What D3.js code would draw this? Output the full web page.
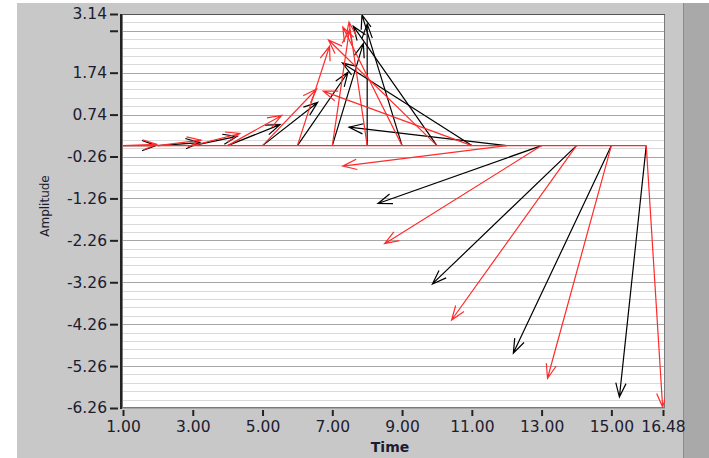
<!DOCTYPE html>
<html>
<head>
<meta charset="utf-8">
<script src="https://cdn.jsdelivr.net/npm/d3@7/dist/d3.min.js"></script>
<style>
  body { margin: 0; background: #fff; }
  svg { display: block; }
  .tick text { font-family: "DejaVu Sans", Verdana, sans-serif; font-size: 15.5px; fill: #1c1c30; }
</style>
</head>
<body>
<script>
// axis ticks
const xTickValues = [1, 3, 5, 7, 9, 11, 13, 15, 16.48];
const yTickValues = [3.14, 2.74, 1.74, 0.74, -0.26, -1.26, -2.26, -3.26, -4.26, -5.26, -6.26];
const yTickLabels = ["3.14", "", "1.74", "0.74", "-0.26", "-1.26", "-2.26", "-3.26", "-4.26", "-5.26", "-6.26"];

// arrow start times (all start on the 0 line) and their components
const times = [1, 2, 3, 4, 5, 6, 7, 8, 9, 10, 11, 12, 13, 14, 15, 16];
const blackDx = [0.95, 1.20, 1.27, 1.50, 1.58, 1.45, 0.89, 0.00, -1.15, -2.40, -3.71, -4.52, -4.69, -4.13, -2.81, -0.77];
const blackDy = [0.00, 0.07, 0.22, 0.50, 1.03, 1.75, 2.44, 2.90, 3.12, 2.85, 1.97, 0.44, -1.38, -3.30, -4.95, -6.00];
const redDx = [0.97, 1.24, 1.35, 1.55, 1.55, 0.92, 0.49, -0.52, -1.70, -3.11, -4.26, -4.70, -4.50, -3.58, -1.83, 0.47];
const redDy = [0.03, 0.13, 0.29, 0.72, 1.35, 2.37, 2.76, 2.95, 2.83, 2.52, 1.30, -0.49, -2.34, -4.16, -5.55, -6.24];

const W = 709, H = 458;
const plot = {left: 122, right: 665, top: 14, bottom: 408};

const svg = d3.select("body").append("svg")
    .attr("width", W)
    .attr("height", H);

// panel
svg.append("rect").attr("x", 17).attr("y", 3).attr("width", W - 17).attr("height", H - 3).attr("fill", "#c8c8c8");
svg.append("rect").attr("x", 683).attr("y", 3).attr("width", W - 683).attr("height", H - 3).attr("fill", "#a9a9a9");
svg.append("line").attr("x1", 683.5).attr("x2", 683.5).attr("y1", 3).attr("y2", H).attr("stroke", "#8c8c8c");

const x = d3.scaleLinear().domain([1, 16.48]).range([123, 663]);
const y = d3.scaleLinear().domain([-6.26, 3.14]).range([plot.bottom, plot.top]);

// plot background
svg.append("rect")
    .attr("x", plot.left).attr("y", plot.top)
    .attr("width", plot.right - plot.left).attr("height", plot.bottom - plot.top)
    .attr("fill", "#fff");

// grid lines, minor every 0.2 and major every 1
const minor = d3.range(0, 48).map(i => -6.26 + i * 0.2);
svg.append("g").selectAll("line").data(minor).join("line")
    .attr("x1", plot.left).attr("x2", plot.right)
    .attr("y1", d => Math.round(y(d)) + 0.5).attr("y2", d => Math.round(y(d)) + 0.5)
    .attr("stroke", "#d9d9d9");
svg.append("g").selectAll("line").data(yTickValues.slice(1)).join("line")
    .attr("x1", plot.left).attr("x2", plot.right)
    .attr("y1", d => Math.round(y(d)) + 0.5).attr("y2", d => Math.round(y(d)) + 0.5)
    .attr("stroke", "#a6a6a6");

// frame
svg.append("rect")
    .attr("x", plot.left + 0.5).attr("y", plot.top + 0.5)
    .attr("width", plot.right - plot.left - 1).attr("height", plot.bottom - plot.top - 1)
    .attr("fill", "none").attr("stroke", "#7a7a7a");
svg.append("line").attr("x1", plot.top).attr("x1", 121).attr("x2", 121)
    .attr("y1", plot.top).attr("y2", plot.bottom + 1)
    .attr("stroke", "#222").attr("stroke-width", 2);
svg.append("line").attr("x1", plot.left).attr("x2", plot.right)
    .attr("y1", plot.top + 0.5).attr("y2", plot.top + 0.5)
    .attr("stroke", "#555");

// axes
const yAxis = svg.append("g")
    .attr("transform", "translate(118,0)")
    .call(d3.axisLeft(y).tickValues(yTickValues)
        .tickFormat((d, i) => yTickLabels[i])
        .tickSize(8).tickPadding(3));
yAxis.select(".domain").remove();
yAxis.selectAll(".tick line").attr("stroke", "#222").attr("stroke-width", 2);

const xAxis = svg.append("g")
    .attr("transform", "translate(0,410)")
    .call(d3.axisBottom(x).tickValues(xTickValues)
        .tickFormat(d3.format(".2f"))
        .tickSize(6).tickPadding(5));
xAxis.select(".domain").remove();
xAxis.selectAll(".tick line").attr("stroke", "#222").attr("stroke-width", 2);

// axis titles
svg.append("text")
    .attr("x", 390).attr("y", 452)
    .attr("text-anchor", "middle")
    .style("font-family", "DejaVu Sans, sans-serif")
    .style("font-size", "14px").style("font-weight", "bold")
    .attr("fill", "#1c1c30")
    .text("Time");
svg.append("text")
    .attr("transform", "translate(49,206) rotate(-90)")
    .attr("text-anchor", "middle")
    .style("font-family", "DejaVu Sans, sans-serif")
    .style("font-size", "12px")
    .attr("fill", "#1c1c30")
    .text("Amplitude");

// arrows
const headLen = 15, headAng = 20 * Math.PI / 180;
function arrowPath(t, dx, dy) {
    const x0 = x(t), y0 = y(0);
    const x1 = x(t + dx), y1 = y(dy);
    const a = Math.atan2(y0 - y1, x0 - x1);
    const b1 = [x1 + headLen * Math.cos(a + headAng), y1 + headLen * Math.sin(a + headAng)];
    const b2 = [x1 + headLen * Math.cos(a - headAng), y1 + headLen * Math.sin(a - headAng)];
    return "M" + x0 + "," + y0 + "L" + x1 + "," + y1 +
        "M" + b1[0] + "," + b1[1] + "L" + x1 + "," + y1 + "L" + b2[0] + "," + b2[1];
}

svg.append("clipPath").attr("id", "clip").append("rect")
    .attr("x", plot.left + 1).attr("y", plot.top + 1)
    .attr("width", plot.right - plot.left - 1).attr("height", plot.bottom - plot.top - 1);

const marks = svg.append("g").attr("clip-path", "url(#clip)");

marks.selectAll(".black").data(times).join("path")
    .attr("class", "black")
    .attr("d", (t, i) => arrowPath(t, blackDx[i], blackDy[i]))
    .attr("fill", "none").attr("stroke", "#000").attr("stroke-width", 1.2);

marks.selectAll(".red").data(times).join("path")
    .attr("class", "red")
    .attr("d", (t, i) => arrowPath(t, redDx[i], redDy[i]))
    .attr("fill", "none").attr("stroke", "#ff2b2b").attr("stroke-width", 1.2);

// red baseline joining the arrow starts
marks.append("line")
    .attr("x1", x(times[0]) - 1).attr("x2", x(times[times.length - 1]))
    .attr("y1", y(0)).attr("y2", y(0))
    .attr("stroke", "#ff2b2b").attr("stroke-width", 1.2);
</script>
</body>
</html>
